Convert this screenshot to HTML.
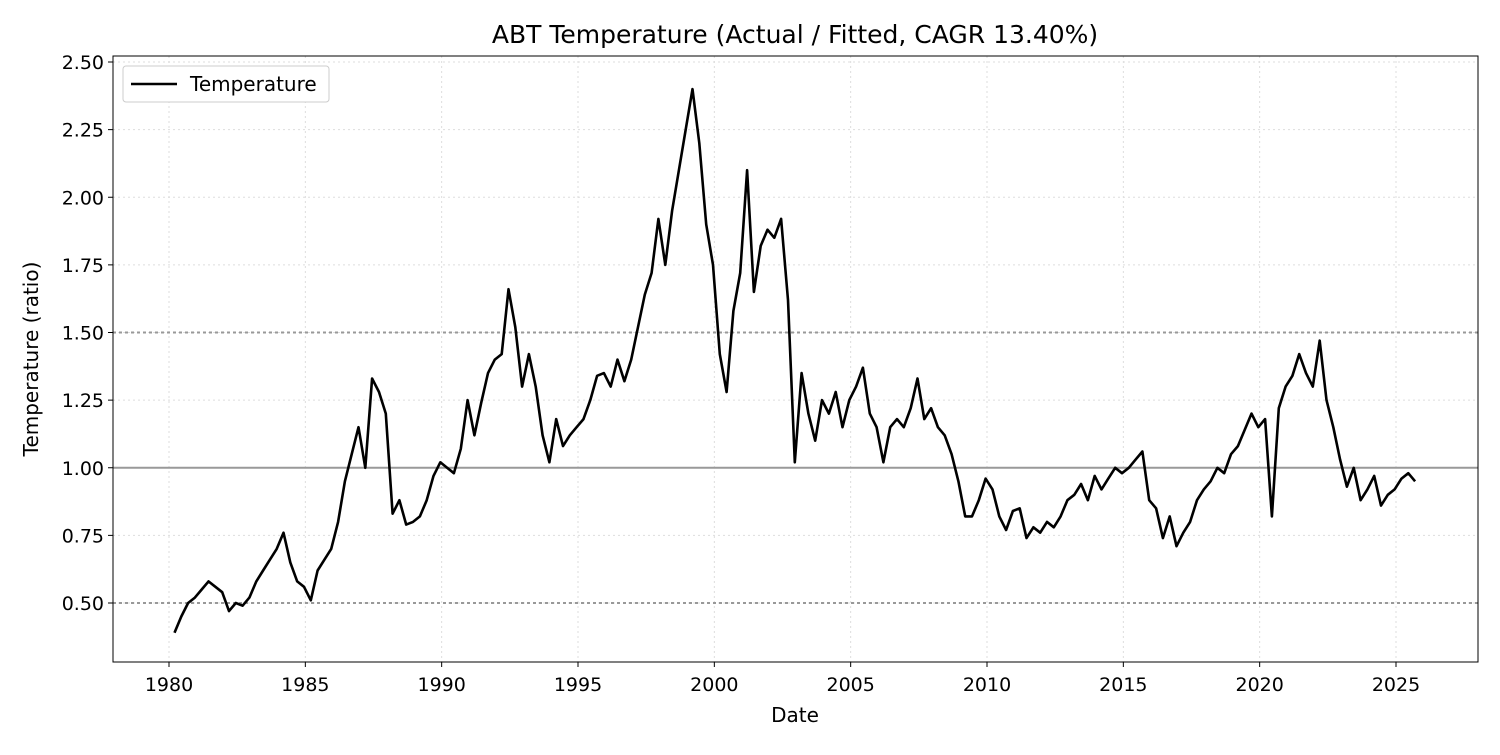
<!DOCTYPE html>
<html><head><meta charset="utf-8"><style>
body{margin:0;background:#fff;}
svg text{font-family:"DejaVu Sans","Liberation Sans",sans-serif;fill:#000;}
</style></head><body>
<svg id="chart" width="1500" height="750" xmlns="http://www.w3.org/2000/svg">
<rect width="1500" height="750" fill="#fff"/>
<g id="grid"></g>
<g id="refs"></g>
<path id="series" fill="none" stroke="#000" stroke-width="2.6" stroke-linejoin="round"/>
<rect x="113" y="56" width="1365" height="606" fill="none" stroke="#000" stroke-width="1"/>
<g id="axes"></g>
<text x="795" y="43" font-size="25" text-anchor="middle">ABT Temperature (Actual / Fitted, CAGR 13.40%)</text>
<text x="795" y="722" font-size="20" text-anchor="middle">Date</text>
<text transform="translate(38,359) rotate(-90)" font-size="20" text-anchor="middle">Temperature (ratio)</text>
<g>
<rect x="123" y="66" width="206" height="36" rx="3" fill="#fff" stroke="#ccc"/>
<line x1="131" y1="84" x2="177" y2="84" stroke="#000" stroke-width="2.4"/>
<text x="190" y="91" font-size="20">Temperature</text>
</g>
</svg>
<script>
const yTicks=[0.5,0.75,1.0,1.25,1.5,1.75,2.0,2.25,2.5];
const xTicks=[1980,1985,1990,1995,2000,2005,2010,2015,2020,2025];
const startYear=1980.2;
const values=[0.39,0.45,0.50,0.52,0.55,0.58,0.56,0.54,0.47,0.50,0.49,0.52,0.58,0.62,0.66,0.70,0.76,0.65,0.58,0.56,0.51,0.62,0.66,0.70,0.80,0.95,1.05,1.15,1.00,1.33,1.28,1.20,0.83,0.88,0.79,0.80,0.82,0.88,0.97,1.02,1.00,0.98,1.07,1.25,1.12,1.24,1.35,1.40,1.42,1.66,1.52,1.30,1.42,1.30,1.12,1.02,1.18,1.08,1.12,1.15,1.18,1.25,1.34,1.35,1.30,1.40,1.32,1.40,1.52,1.64,1.72,1.92,1.75,1.95,2.10,2.25,2.40,2.20,1.90,1.75,1.42,1.28,1.58,1.72,2.10,1.65,1.82,1.88,1.85,1.92,1.62,1.02,1.35,1.20,1.10,1.25,1.20,1.28,1.15,1.25,1.30,1.37,1.20,1.15,1.02,1.15,1.18,1.15,1.22,1.33,1.18,1.22,1.15,1.12,1.05,0.95,0.82,0.82,0.88,0.96,0.92,0.82,0.77,0.84,0.85,0.74,0.78,0.76,0.80,0.78,0.82,0.88,0.90,0.94,0.88,0.97,0.92,0.96,1.00,0.98,1.00,1.03,1.06,0.88,0.85,0.74,0.82,0.71,0.76,0.80,0.88,0.92,0.95,1.00,0.98,1.05,1.08,1.14,1.20,1.15,1.18,0.82,1.22,1.30,1.34,1.42,1.35,1.30,1.47,1.25,1.15,1.03,0.93,1.00,0.88,0.92,0.97,0.86,0.90,0.92,0.96,0.98,0.95];
const X=y=>169+(y-1980)*(1396-169)/45;
const Y=v=>603-(v-0.5)*(603-62)/2;
const NS="http://www.w3.org/2000/svg";
function mk(tag,attrs,parent){const e=document.createElementNS(NS,tag);for(const k in attrs)e.setAttribute(k,attrs[k]);parent.appendChild(e);return e;}
const grid=document.getElementById('grid'),axes=document.getElementById('axes'),refs=document.getElementById('refs');
yTicks.forEach(t=>{const y=Y(t);
 const g=mk('line',{x1:113,x2:1478,y1:y,y2:y,stroke:'#ddd','stroke-dasharray':'2,3'},grid);
 
 
 mk('line',{x1:108,x2:113,y1:y,y2:y,stroke:'#000'},axes);
 const tx=mk('text',{x:104,y:y+7,'font-size':19,'text-anchor':'end'},axes);tx.textContent=t.toFixed(2);
 
 
});
xTicks.forEach(t=>{const x=X(t);
 const g=mk('line',{x1:x,x2:x,y1:56,y2:662,stroke:'#ddd','stroke-dasharray':'2,3'},grid);
 
 
 mk('line',{x1:x,x2:x,y1:662,y2:667,stroke:'#000'},axes);
 const tx=mk('text',{x:x,y:691,'font-size':19,'text-anchor':'middle'},axes);tx.textContent=t;
 
 
});
[[1.5,'3,3','#999'],[0.5,'3,3','#999'],[1.0,'','#999']].forEach(r=>{
 const l=mk('line',{x1:113,x2:1478,y1:Y(r[0]),y2:Y(r[0]),stroke:r[2],'stroke-width':2},refs);
 if(r[1])l.setAttribute('stroke-dasharray',r[1]);
 
 
});
let d='';values.forEach((v,i)=>{d+=(i?'L':'M')+X(startYear+i*0.25).toFixed(1)+','+Y(v).toFixed(1);});
document.getElementById('series').setAttribute('d',d);
</script>
</body></html>
